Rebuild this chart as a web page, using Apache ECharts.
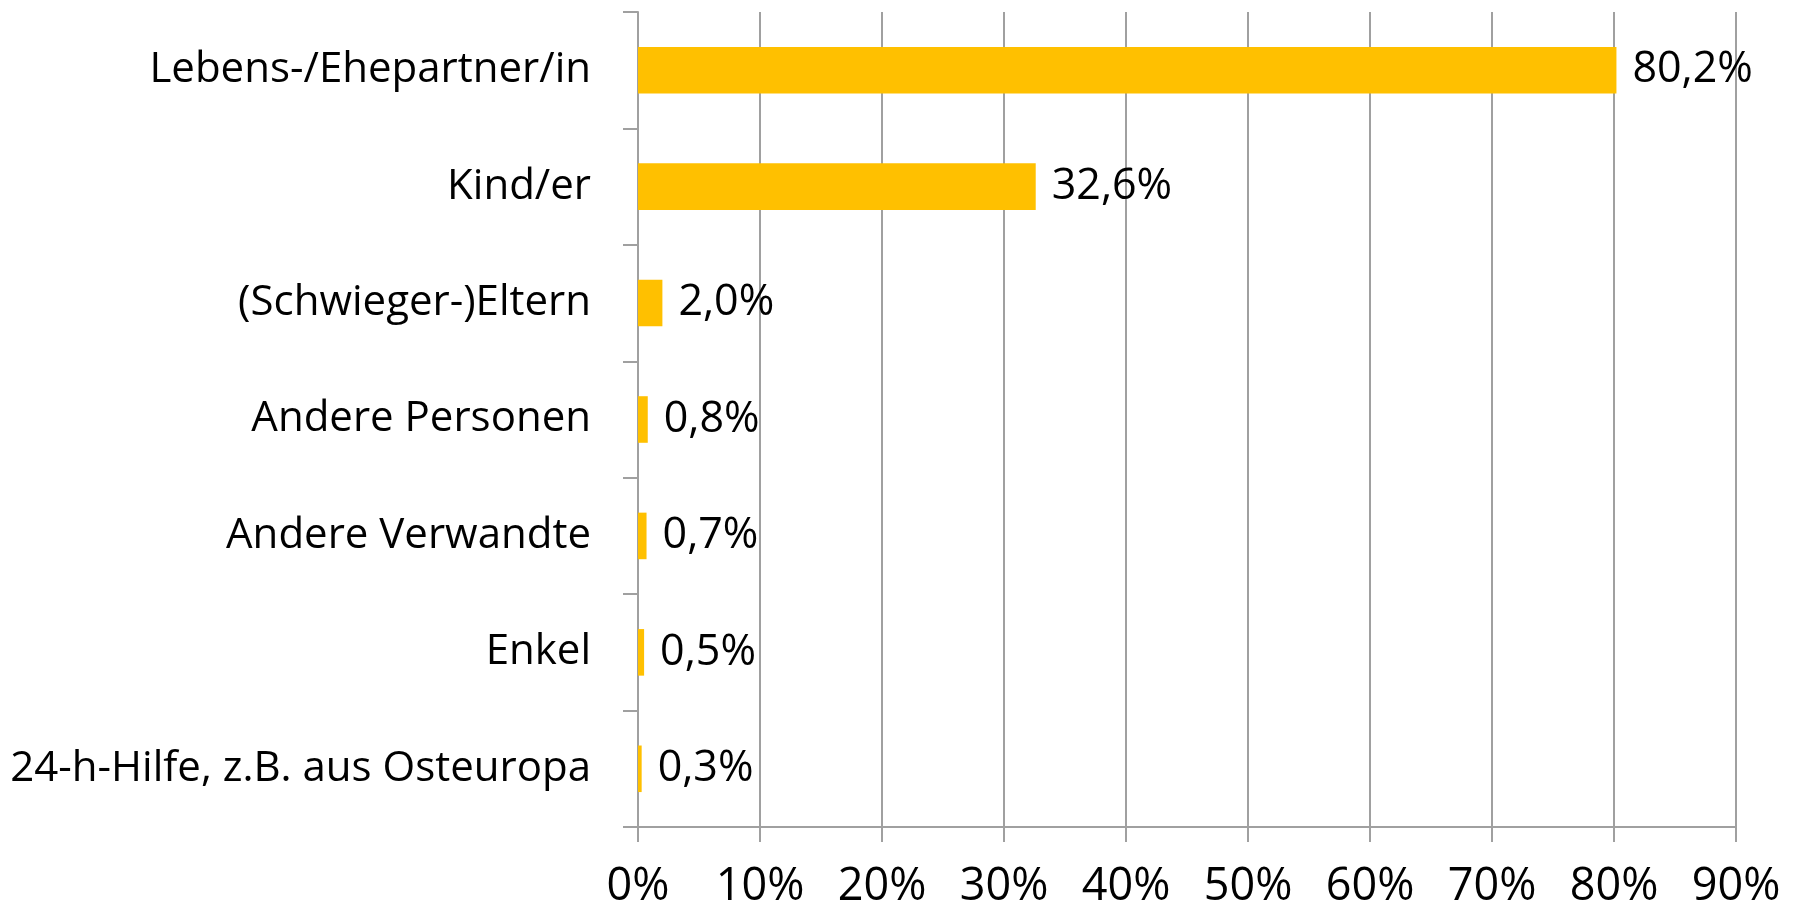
<!DOCTYPE html>
<html>
<head>
<meta charset="utf-8">
<script src="https://cdn.jsdelivr.net/npm/echarts@6/dist/echarts.min.js"></script>
<style>
  html, body { margin: 0; padding: 0; background: #fff; }
  #chart { width: 1794px; height: 910px; }
</style>
</head>
<body>
<div id="chart"></div>
<script>
// Kategorien (von oben nach unten)
const categories = [
  'Lebens-/Ehepartner/in',
  'Kind/er',
  '(Schwieger-)Eltern',
  'Andere Personen',
  'Andere Verwandte',
  'Enkel',
  '24-h-Hilfe, z.B. aus Osteuropa'
];
// Anteile in Prozent
const values = [80.2, 32.6, 2.0, 0.8, 0.7, 0.5, 0.3];

const FONT = '"Open Sans", sans-serif';
const GRAY = '#a0a0a0';

const chart = echarts.init(document.getElementById('chart'));
chart.setOption({
  animation: false,
  grid: { left: 638, right: 58, top: 12, bottom: 80 },
  xAxis: {
    type: 'value',
    min: 0,
    max: 90,
    interval: 10,
    axisLine: { show: true, lineStyle: { color: GRAY, width: 2 } },
    axisTick: { show: true, length: 15, lineStyle: { color: GRAY, width: 2 } },
    splitLine: { show: true, lineStyle: { color: GRAY, width: 2 } },
    axisLabel: {
      formatter: '{value}%',
      color: '#000',
      fontFamily: FONT,
      fontSize: 45,
      margin: 38
    }
  },
  yAxis: {
    type: 'category',
    inverse: true,
    data: categories,
    axisLine: { show: true, lineStyle: { color: GRAY, width: 2 } },
    axisTick: { show: true, length: 15, lineStyle: { color: GRAY, width: 2 } },
    axisLabel: {
      color: '#000',
      fontFamily: FONT,
      fontSize: 42,
      margin: 47
    }
  },
  series: [{
    type: 'bar',
    data: values,
    barWidth: '40%',
    itemStyle: { color: '#ffc000' },
    label: {
      show: true,
      position: 'right',
      distance: 16,
      color: '#000',
      fontFamily: FONT,
      fontSize: 43,
      formatter: p => p.value.toFixed(1).replace('.', ',') + '%'
    }
  }]
});
</script>
</body>
</html>
